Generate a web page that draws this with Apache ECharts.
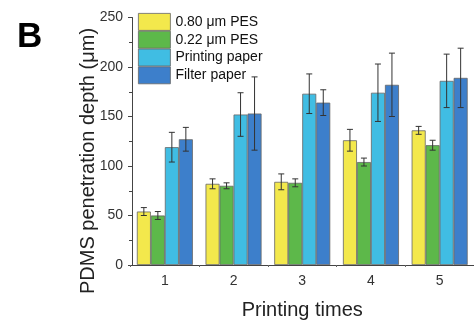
<!DOCTYPE html>
<html><head><meta charset="utf-8">
<script src="https://cdn.jsdelivr.net/npm/echarts@6/dist/echarts.min.js"></script>
<style>html,body{margin:0;padding:0;background:#fff}#c{width:474px;height:325px}</style>
</head><body><div id="c"></div>
<script>
const categories = ['1','2','3','4','5'];
const seriesNames = ['0.80 \u03bcm PES','0.22 \u03bcm PES','Printing paper','Filter paper'];
const pes080 = [54, 82, 84, 126, 136];
const pes080Err = [4, 5, 8, 11, 4];
const pes022 = [50, 80, 83, 104, 121];
const pes022Err = [4, 3, 4, 4, 5];
const printing = [119, 152, 173, 174, 186];
const printingErr = [15, 22, 20, 29, 27];
const filter = [127, 153, 164, 182, 189];
const filterErr = [12, 37, 13, 32, 30];
const colors = ['#f3e84c', '#5db84a', '#40bde3', '#3d7fcb'];

const values = [pes080, pes022, printing, filter];
const errs = [pes080Err, pes022Err, printingErr, filterErr];
const font = 'Liberation Sans, Arial, sans-serif';
const BW = 14;

const errData = [];
values.forEach((arr, s) => arr.forEach((v, i) => errData.push([i, v, errs[s][i], s])));

const chart = echarts.init(document.getElementById('c'));
const barSeries = values.map((arr, s) => ({
  name: seriesNames[s], type: 'bar', data: arr, barWidth: BW, barGap: '0%',
  itemStyle: { color: colors[s], borderColor: '#666', borderWidth: 0.8 },
  xAxisIndex: 0
}));
chart.setOption({
  animation: false,
  textStyle: { fontFamily: font },
  grid: { left: 130.5, top: 17.5, width: 346.5, height: 255.5, containLabel: false },
  legend: {
    orient: 'vertical', left: 138, top: 13, padding: 0, itemWidth: 32, itemHeight: 17, itemGap: 0,
    icon: 'rect', data: seriesNames,
    textStyle: { fontSize: 14, lineHeight: 14, color: '#111', fontFamily: font },
    itemStyle: { borderColor: '#666', borderWidth: 0.8 }
  },
  xAxis: [{
    type: 'category', data: categories,
    axisLine: { lineStyle: { color: '#444', width: 1 } },
    axisTick: { alignWithLabel: true, length: 4, lineStyle: { color: '#444' } },
    axisLabel: { fontSize: 14, color: '#333', margin: 9, fontFamily: font },
    name: 'Printing times', nameLocation: 'middle', nameGap: 35,
    nameTextStyle: { fontSize: 20, color: '#222', fontFamily: font }
  }, {
    type: 'category', data: categories, position: 'bottom',
    axisLine: { show: false }, axisLabel: { show: false },
    axisTick: { show: true, length: 2, lineStyle: { color: '#666' } }
  }],
  yAxis: {
    type: 'value', min: 0, max: 250, interval: 50, offset: -1.5,
    axisLine: { show: true, lineStyle: { color: '#444', width: 1 } },
    axisTick: { show: true, length: 4, lineStyle: { color: '#444' } },
    minorTick: { show: true, splitNumber: 2, length: 3, lineStyle: { color: '#444' } },
    splitLine: { show: false },
    axisLabel: { fontSize: 14, color: '#333', margin: 9, fontFamily: font }
  },
  graphic: [
    { type: 'text', left: 17, top: 20, style: { text: 'B', font: 'bold 35px ' + font, fill: '#000' } },
    { type: 'text', x: 88, y: 161, rotation: Math.PI / 2, style: {
      text: 'PDMS penetration depth (\u03bcm)', font: '20px ' + font, fill: '#222',
      align: 'center', verticalAlign: 'middle' } }
  ],
  series: barSeries.concat([{
    type: 'custom', data: errData, z: 10,
    renderItem: function (params, api) {
      const i = api.value(0), v = api.value(1), e = api.value(2), s = api.value(3);
      const top = api.coord([i, v + e]);
      const bot = api.coord([i, v - e]);
      const x = top[0] + (s - 1.5) * BW;
      const cw = 3;
      const st = { stroke: '#333', lineWidth: 1 };
      return { type: 'group', children: [
        { type: 'line', shape: { x1: x, y1: top[1], x2: x, y2: bot[1] }, style: st },
        { type: 'line', shape: { x1: x - cw, y1: top[1], x2: x + cw, y2: top[1] }, style: st },
        { type: 'line', shape: { x1: x - cw, y1: bot[1], x2: x + cw, y2: bot[1] }, style: st }
      ] };
    }
  }])
});
</script></body></html>
